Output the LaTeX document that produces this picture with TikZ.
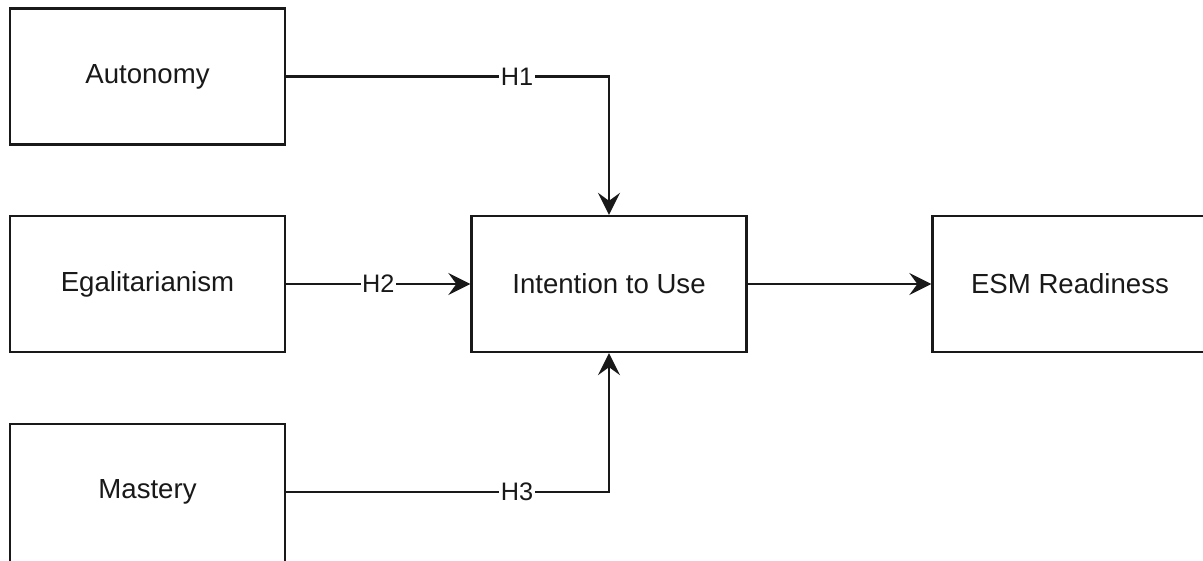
\documentclass[tikz,border=0pt]{standalone}
\usepackage{fontspec}
\setmainfont{Liberation Sans}
\usetikzlibrary{arrows.meta}
\tikzset{
  box/.style={draw=black!90, line width=2.3pt, fill=white, minimum width=275pt, minimum height=136pt,
    inner sep=0pt, font=\fontsize{27.6}{33}\selectfont, text=black!90},
  lbl/.style={fill=white, inner sep=1.5pt, font=\fontsize{25.3}{30}\selectfont, text=black!90},
  arr/.style={draw=black!90, line width=2.3pt, -{Stealth[length=22pt, width=22pt, inset=8pt]}}
}
\begin{document}
\begin{tikzpicture}[x=1pt, y=-1pt]
  \useasboundingbox (0,0) rectangle (1203,561);
  \clip (0,0) rectangle (1203,561);
  \fill[white] (0,0) rectangle (1203,561);

  % constructs
  \node[box] (aut) at (147.5, 76.5) {Autonomy};
  \node[box] (ega) at (147.5, 284) {Egalitarianism};
  \node[box, minimum height=140pt] (mas) at (147.5, 494) {};
  \node[font=\fontsize{27.6}{33}\selectfont, text=black!90] (mastxt) at (147.5, 492) {Mastery};
  \node[box] (int) at (609, 284) {Intention to Use};
  \node[box] (esm) at (1070, 284) {ESM Readiness};

  % hypothesised paths
  \draw[arr] (aut.east) -- node[lbl, pos=0.715] {H1} (aut.east -| int.north) -- (int.north);
  \draw[arr] (ega.east) -- node[lbl] {H2} (int.west);
  \draw[arr] (mas.east |- mastxt) -- node[lbl, pos=0.715] {H3} (mastxt -| int.south) -- (int.south);
  \draw[arr] (int.east) -- (esm.west);
\end{tikzpicture}
\end{document}
